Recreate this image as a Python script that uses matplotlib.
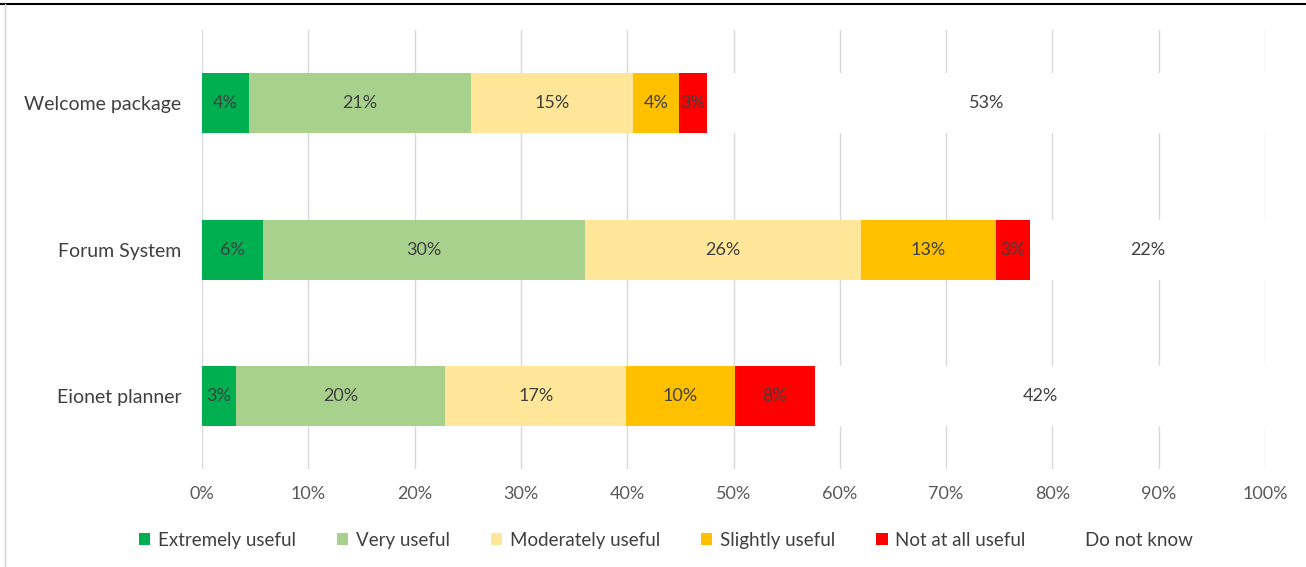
import matplotlib
matplotlib.use("Agg")
import matplotlib.pyplot as plt
from matplotlib.lines import Line2D
from matplotlib.patches import Patch

plt.rcParams['font.family'] = ['Lato', 'DejaVu Sans']

categories = ["Welcome package", "Forum System", "Eionet planner"]
series = ["Extremely useful", "Very useful", "Moderately useful",
          "Slightly useful", "Not at all useful", "Do not know"]
extremely = [4.4, 5.7, 3.2]
very = [20.9, 30.3, 19.7]
moderately = [15.2, 26.0, 17.0]
slightly = [4.4, 12.7, 10.2]
not_at_all = [2.6, 3.2, 7.6]
do_not_know = [52.6, 22.1, 42.3]
ticks = list(range(0, 101, 10))

values = [extremely, very, moderately, slightly, not_at_all, do_not_know]
colors = ["#00B050", "#A9D18E", "#FFE699", "#FFC000", "#FF0000", "#FFFFFF"]
text_color = "#404040"

fig = plt.figure(figsize=(13.06, 5.67), dpi=100)
ax = fig.add_axes([0.1547, 0.1728, 0.8139, 0.7742])

y = list(range(len(categories)))
left = [0.0] * len(categories)
for name, vals, col in zip(series, values, colors):
    ax.barh(y, vals, left=left, height=0.41, color=col, label=name, zorder=2)
    for i, v in enumerate(vals):
        ax.text(left[i] + v / 2, y[i], f"{round(v)}%", ha="center", va="center",
                fontsize=13, color=text_color, zorder=3)
    left = [l + v for l, v in zip(left, vals)]

ax.set_xlim(0, 100)
ax.set_ylim(len(categories) - 0.5, -0.5)
ax.set_yticks(y)
ax.set_yticklabels(categories, fontsize=14, color=text_color)
ax.set_xticks(ticks)
ax.set_xticklabels([f"{t}%" for t in ticks], fontsize=13, color="#595959")
ax.tick_params(axis="both", length=0)
ax.tick_params(axis="y", pad=15)
ax.tick_params(axis="x", pad=12)
ax.grid(axis="x", color="#D9D9D9", linewidth=1, zorder=0)
for s in ax.spines.values():
    s.set_visible(False)

handles = [Patch(facecolor=c, edgecolor="none") for c in colors]
fig.legend(handles, series, loc="center", bbox_to_anchor=(0.510, 0.047), ncol=6,
           frameon=False, fontsize=13.5, handlelength=0.6, handleheight=0.6,
           handletextpad=0.4, columnspacing=2.2, labelcolor=text_color)

# frame lines around the chart area
fig.add_artist(Line2D([0, 1], [1 - 4 / 567, 1 - 4 / 567], color="black", linewidth=1.5))
fig.add_artist(Line2D([5 / 1306, 5 / 1306], [0, 1 - 4 / 567], color="#D0D0D0", linewidth=1))

fig.savefig("out.png", dpi=100)
